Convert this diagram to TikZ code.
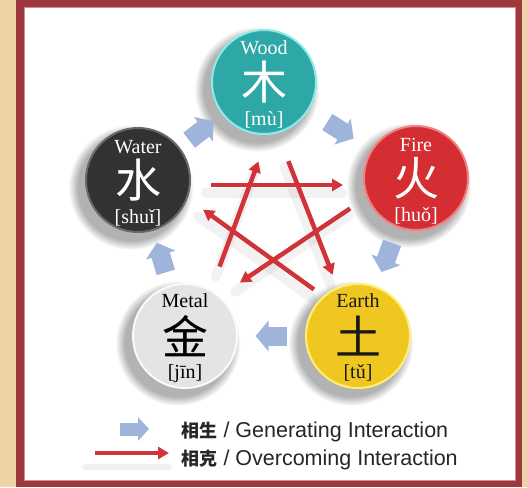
\documentclass[tikz,border=0pt]{standalone}
\usepackage{fontspec}
\setmainfont{Liberation Serif}
\newfontfamily\legendfont{Liberation Sans}
\newfontfamily\cjk{Noto Sans CJK SC}
\usetikzlibrary{arrows.meta,calc,shadows}

\definecolor{bgtan}{RGB}{237,211,166}
\definecolor{framered}{RGB}{157,56,62}
\definecolor{framepink}{RGB}{214,140,145}
\definecolor{woodc}{RGB}{46,168,166}
\definecolor{woodrim}{RGB}{140,235,232}
\definecolor{firec}{RGB}{212,46,50}
\definecolor{firerim}{RGB}{240,130,132}
\definecolor{earthc}{RGB}{240,198,32}
\definecolor{earthrim}{RGB}{255,238,120}
\definecolor{metalc}{RGB}{228,228,228}
\definecolor{metalrim}{RGB}{250,250,250}
\definecolor{waterc}{RGB}{50,50,50}
\definecolor{waterrim}{RGB}{105,105,105}
\definecolor{genblue}{RGB}{158,180,218}
\definecolor{overred}{RGB}{208,52,56}

\begin{document}
\begin{tikzpicture}[
  x=1pt, y=-1pt,
  element/.style={circle, minimum size=104pt, inner sep=0pt, line width=2pt,
    font=\cjk\fontsize{46}{46}\selectfont,
    circular drop shadow={shadow xshift=-6pt, shadow yshift=-6pt,
      shadow scale=1.2, opacity=.6}},
  elname/.style={anchor=base, font=\fontsize{20}{20}\selectfont},
  elpin/.style={anchor=base, font=\fontsize{20}{20}\selectfont},
  generate/.style={-{Triangle[length=13pt,width=30pt]}, line width=19pt, genblue},
  overcome/.style={-{Triangle[length=11pt,width=12pt]}, line width=4.5pt, overred,
    shorten <=42pt, shorten >=42pt},
  starshadow/.style={black, opacity=.05, line width=10pt, line cap=round,
    shorten <=40pt, shorten >=40pt},
  legendtext/.style={anchor=base west, font=\legendfont\fontsize{21.5}{24}\selectfont,
    text=black!85}
]
  % frame
  \useasboundingbox (0,0) rectangle (527,487);
  \fill[bgtan] (0,0) rectangle (527,487);
  \fill[framered] (16,0) rectangle (522,487);
  \filldraw[fill=white, draw=framepink, line width=1pt] (24,8) rectangle (515,480);

  % tips of the star
  \coordinate (tipwood) at (273,122);
  \coordinate (tipfire) at (385,185);
  \coordinate (tipearth) at (348,314);
  \coordinate (tipmetal) at (205,306);
  \coordinate (tipwater) at (169,185);

  \begin{scope}[transform canvas={xshift=-3pt, yshift=-8pt}]
    \draw[starshadow] (tipwater) -- (tipfire);
    \draw[starshadow] (tipmetal) -- (tipwood);
    \draw[starshadow] (tipwood) -- (tipearth);
    \draw[starshadow] (tipfire) -- (tipmetal);
    \draw[starshadow] (tipearth) -- (tipwater);
  \end{scope}

  % elements
  \node[element, fill=woodc, draw=woodrim, text=white] (wood) at (264,82) {木};
  \node[element, fill=firec, draw=firerim, text=white] (fire) at (416,178) {火};
  \node[element, fill=earthc, draw=earthrim, text=black!90] (earth) at (358,336) {土};
  \node[element, fill=metalc, draw=metalrim, text=black] (metal) at (185,336) {金};
  \node[element, fill=waterc, draw=waterrim, text=white] (water) at (138,180) {水};

  \node[elname, text=white] (woodname) at ($(wood)+(0,-27)$) {Wood};
  \node[elpin, text=white] (woodpin) at ($(wood)+(0,43)$) {[mù]};
  \node[elname, text=white] (firename) at ($(fire)+(0,-27)$) {Fire};
  \node[elpin, text=white] (firepin) at ($(fire)+(0,43)$) {[huǒ]};
  \node[elname, text=black!90] (earthname) at ($(earth)+(0,-29)$) {Earth};
  \node[elpin, text=black!90] (earthpin) at ($(earth)+(0,42)$) {[tǔ]};
  \node[elname, text=black] (metalname) at ($(metal)+(0,-29)$) {Metal};
  \node[elpin, text=black] (metalpin) at ($(metal)+(0,42)$) {[jīn]};
  \node[elname, text=white] (watername) at ($(water)+(0,-27)$) {Water};
  \node[elpin, text=white] (waterpin) at ($(water)+(0,43)$) {[shuǐ]};

  % generating cycle
  \draw[generate] ($(wood)!.5!(fire)!15pt!(wood)$) -- ($(wood)!.5!(fire)!16pt!(fire)$);
  \draw[generate] ($(fire)!.5!(earth)!15pt!(fire)$) -- ($(fire)!.5!(earth)!16pt!(earth)$);
  \draw[generate] ($(earth)!.5!(metal)!15pt!(earth)$) -- ($(earth)!.5!(metal)!16pt!(metal)$);
  \draw[generate] ($(metal)!.5!(water)!15pt!(metal)$) -- ($(metal)!.5!(water)!16pt!(water)$);
  \draw[generate] ($(water)!.5!(wood)!15pt!(water)$) -- ($(water)!.5!(wood)!16pt!(wood)$);

  % overcoming star
  \draw[overcome] (tipwater) -- (tipfire);
  \draw[overcome] (tipmetal) -- (tipwood);
  \draw[overcome] (tipwood) -- (tipearth);
  \draw[overcome] (tipfire) -- (tipmetal);
  \draw[overcome] (tipearth) -- (tipwater);

  % legend
  \coordinate (genfrom) at (120,429);
  \coordinate (gento) at (149,429);
  \coordinate (overfrom) at (95,453);
  \coordinate (overto) at (169,453);
  \draw[generate, line width=13pt, -{Triangle[length=11pt,width=23pt]}] (genfrom) -- (gento);
  \draw[black, opacity=.06, line width=6pt, line cap=round]
    ($(overfrom)+(-10,14)$) -- ($(overto)+(0,14)$);
  \draw[overcome, shorten <=0pt, shorten >=0pt, line width=4pt] (overfrom) -- (overto);
  \node[legendtext] (genlabel) at (178,437)
    {{\cjk\bfseries\fontsize{18}{18}\selectfont 相生} / Generating Interaction};
  \node[legendtext] (overlabel) at (178,465)
    {{\cjk\bfseries\fontsize{18}{18}\selectfont 相克} / Overcoming Interaction};
\end{tikzpicture}
\end{document}
